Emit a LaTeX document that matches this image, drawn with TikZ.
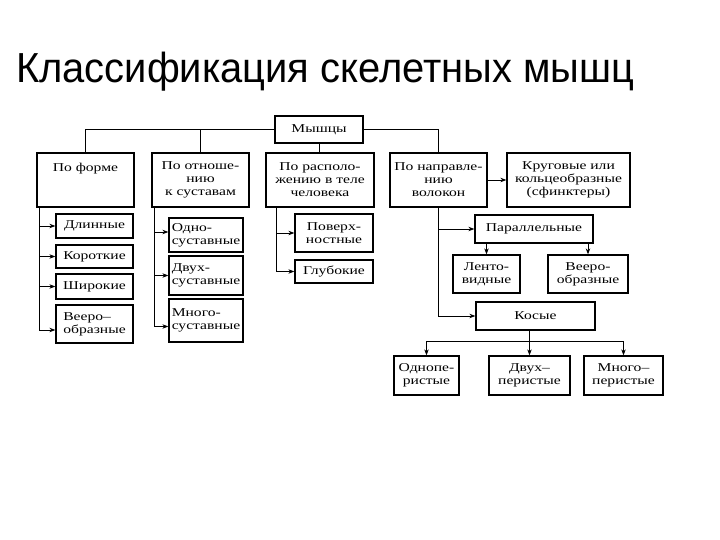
\documentclass[tikz,border=0pt]{standalone}
\usepackage{fontspec}
\setmainfont{Liberation Serif}
\newfontfamily\titlefont[FakeStretch=0.95]{Liberation Sans}
\newfontfamily\boxfont[FakeStretch=1.3]{Liberation Serif}
\usetikzlibrary{arrows.meta}

\begin{document}
\begin{tikzpicture}[x=1pt, y=-1pt,
    box/.style={draw, line width=1.3pt, align=center, inner sep=1pt,
      font=\boxfont\fontsize{12}{13}\selectfont},
    lbox/.style={box, align=left},
    link/.style={line width=0.8pt},
    arr/.style={link, -{Stealth[length=6pt, width=4.5pt]}}]
    \useasboundingbox (0,0) rectangle (720,540);
    % title:
    \node[anchor=base west, inner sep=0pt, font=\titlefont\fontsize{42}{42}\selectfont] (title) at (16,83) {Классификация скелетных мышц};
    % top box:
    \node[box, minimum width=88, minimum height=27] (myshcy) at (319,129.5) {Мышцы};
    % first level:
    \node[box, minimum width=97, minimum height=54] (forma) at (85.5,180) {По форме\\~\\~};
    \node[box, minimum width=97, minimum height=54] (sust) at (200.5,180) {По отноше-\\нию\\к суставам};
    \node[box, minimum width=108, minimum height=54] (rasp) at (320,180) {По располо-\\жению в теле\\человека};
    \node[box, minimum width=97, minimum height=54] (napr) at (438.5,180) {По направле-\\нию\\волокон};
    \node[box, minimum width=123, minimum height=54] (krug) at (568.5,180) {Круговые или\\кольцеобразные\\(сфинктеры)};
    % by form:
    \node[lbox, minimum width=77, minimum height=24] (dlin) at (94.5,226) {Длинные};
    \node[lbox, minimum width=77, minimum height=23] (korot) at (94.5,256.5) {Короткие};
    \node[lbox, minimum width=77, minimum height=25] (shir) at (94.5,286.5) {Широкие};
    \node[lbox, minimum width=77, minimum height=38] (veer1) at (94.5,324) {Вееро–\\образные};
    % by joints:
    \node[lbox, minimum width=74, minimum height=34] (odno) at (206,235) {Одно-\\суставные};
    \node[lbox, minimum width=74, minimum height=39] (dvuh) at (206,275.5) {Двух-\\суставные};
    \node[lbox, minimum width=74, minimum height=43] (mnogo) at (206,320.5) {Много-\\суставные};
    % by position:
    \node[box, minimum width=78, minimum height=38] (pov) at (334,233) {Поверх-\\ностные};
    \node[box, minimum width=78, minimum height=23] (glub) at (334,271.5) {Глубокие};
    % by fibres:
    \node[box, minimum width=118, minimum height=28] (paral) at (534,229) {Параллельные};
    \node[box, minimum width=67, minimum height=38] (lent) at (486.5,274) {Ленто-\\видные};
    \node[box, minimum width=80, minimum height=38] (veer2) at (588,274) {Вееро-\\образные};
    \node[box, minimum width=119, minimum height=28] (kos) at (535.5,316) {Косые};
    \node[box, minimum width=65, minimum height=39] (per1) at (426.5,375.5) {Однопе-\\ристые};
    \node[box, minimum width=81, minimum height=39] (per2) at (529.5,375.5) {Двух–\\перистые};
    \node[box, minimum width=79, minimum height=39] (per3) at (623.5,375.5) {Много–\\перистые};

    % links from the top:
    \draw[link] (forma.north) |- (myshcy.west);
    \draw[link] (sust.north) -- (sust.north |- myshcy.west);
    \draw[link] (myshcy.east) -| (napr.north);
    \draw[link] (myshcy.south) -- (myshcy.south |- rasp.north);
    \draw[arr] (napr) -- (krug);
    % columns:
    \foreach \b in {dlin, korot, shir}
      \draw[arr] ([xshift=3]forma.south west) |- (\b.west);
    \draw[arr] ([xshift=3]forma.south west) |- ([yshift=-6]veer1.west);
    \draw[arr] ([xshift=3]sust.south west) |- ([yshift=3]odno.west);
    \draw[arr] ([xshift=3]sust.south west) |- (dvuh.west);
    \draw[arr] ([xshift=3]sust.south west) |- ([yshift=-6]mnogo.west);
    \foreach \b in {pov, glub}
      \draw[arr] ([xshift=11]rasp.south west) |- (\b.west);
    \draw[arr] (napr.south) |- (paral.west);
    \draw[arr] (napr.south) |- (kos.west);
    \draw[arr] (paral.south -| lent.north) -- (lent.north);
    \draw[arr] (paral.south -| veer2.north) -- (veer2.north);
    % pennate:
    \coordinate (fork) at ([yshift=-11]kos.south -| per2.north);
    \draw[arr] (kos.south -| per2.north) -- (per2.north);
    \draw[arr] (fork) -| (per1.north);
    \draw[arr] (fork) -| (per3.north);
\end{tikzpicture}
\end{document}
